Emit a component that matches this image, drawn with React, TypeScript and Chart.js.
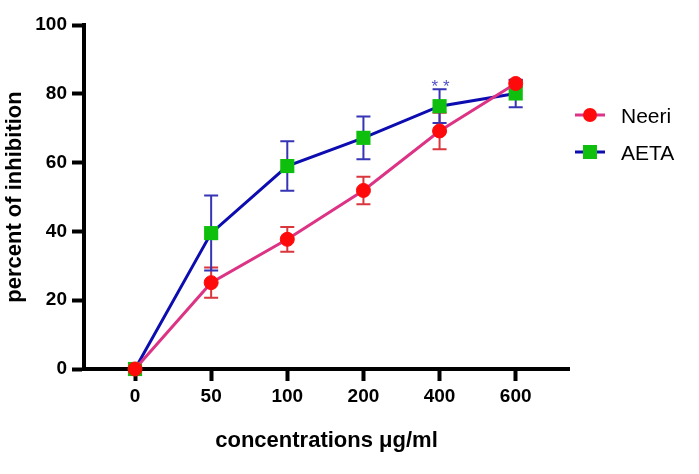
import { useEffect, useRef } from 'react';
import Chart from 'chart.js/auto';

const concentrations = ['0', '50', '100', '200', '400', '600'];
const neeriMean = [0, 25.1, 37.7, 51.9, 69.2, 83.0];
const neeriSem = [0, 4.4, 3.6, 4.0, 5.3, 1.0];
const aetaMean = [0, 39.5, 59.0, 67.2, 76.4, 80.1];
const aetaSem = [0, 10.9, 7.2, 6.2, 4.9, 4.0];
const aetaMarks = ['', '', '', '', '**', ''];

const FONT = '"Liberation Sans", Arial, sans-serif';

// error bars behind the markers
const errorBars = {
    id: 'errorBars',
    beforeDatasetsDraw(chart: any) {
        const { ctx, scales: { x, y } } = chart;
        chart.data.datasets.forEach((ds: any) => {
            ctx.save();
            ctx.strokeStyle = ds.errColor;
            ctx.lineWidth = 2;
            ds.data.forEach((p: any, i: number) => {
                const e = ds.sem[i];
                if (!e) return;
                const px = x.getPixelForValue(p.x);
                const top = y.getPixelForValue(p.y + e);
                const bot = y.getPixelForValue(p.y - e);
                ctx.beginPath();
                ctx.moveTo(px, top);
                ctx.lineTo(px, bot);
                ctx.moveTo(px - 7, top);
                ctx.lineTo(px + 7, top);
                ctx.moveTo(px - 7, bot);
                ctx.lineTo(px + 7, bot);
                ctx.stroke();
            });
            ctx.restore();
        });
    },
    afterDatasetsDraw(chart: any) {
        const { ctx, scales: { x, y } } = chart;
        const ds = chart.data.datasets[1];
        ctx.save();
        ctx.fillStyle = '#5252c8';
        ctx.font = `17px ${FONT}`;
        ctx.textAlign = 'center';
        ctx.textBaseline = 'alphabetic';
        aetaMarks.forEach((m, i) => {
            if (!m) return;
            const px = x.getPixelForValue(i);
            const py = y.getPixelForValue(aetaMean[i] + aetaSem[i]);
            ctx.fillText(m.split('').join(' '), px + 1, py + 3);
        });
        ctx.restore();
        void ds;
    },
};

// legend with line + marker sample, to the right of the plot
const sideLegend = {
    id: 'sideLegend',
    afterDraw(chart: any) {
        const { ctx, chartArea } = chart;
        const x0 = chartArea.right + 6;
        chart.data.datasets.forEach((ds: any, i: number) => {
            const yy = chartArea.top + 90 + i * 37;
            ctx.save();
            ctx.strokeStyle = ds.borderColor;
            ctx.lineWidth = 3;
            ctx.beginPath();
            ctx.moveTo(x0, yy);
            ctx.lineTo(x0 + 30, yy);
            ctx.stroke();
            ctx.fillStyle = ds.pointBackgroundColor;
            if (ds.pointStyle === 'circle') {
                ctx.beginPath();
                ctx.arc(x0 + 15, yy, 7, 0, Math.PI * 2);
                ctx.fill();
            } else {
                ctx.fillRect(x0 + 8, yy - 7, 14, 14);
            }
            ctx.fillStyle = '#000';
            ctx.font = `21px ${FONT}`;
            ctx.textAlign = 'left';
            ctx.textBaseline = 'alphabetic';
            ctx.fillText(ds.label, x0 + 46, yy + 7.5);
            ctx.restore();
        });
    },
};

const InhibitionChart = () => {
    const chartRef = useRef<HTMLCanvasElement | null>(null);
    const chartInstance = useRef<Chart | null>(null);

    useEffect(() => {
        document.body.style.margin = '0';
        if (!chartRef.current) return;
        if (chartInstance.current) chartInstance.current.destroy();

        const tickFont = { family: FONT, size: 19, weight: 'bold' as const };
        const titleFont = { family: FONT, size: 22, weight: 'bold' as const };
        const grid = {
            display: true,
            drawOnChartArea: false,
            drawTicks: true,
            tickLength: 12,
            tickWidth: 4,
            tickColor: '#000',
        };
        const border = { display: true, color: '#000', width: 4 };

        chartInstance.current = new Chart(chartRef.current, {
            type: 'line',
            data: {
                datasets: [
                    {
                        label: 'Neeri',
                        data: neeriMean.map((v, i) => ({ x: i, y: v })),
                        sem: neeriSem,
                        errColor: '#d9363e',
                        borderColor: '#dd3385',
                        borderWidth: 3,
                        pointStyle: 'circle',
                        pointRadius: 7,
                        pointBackgroundColor: '#ff0a0a',
                        pointBorderColor: '#ff0a0a',
                        pointBorderWidth: 1,
                        tension: 0,
                        fill: false,
                        clip: false,
                    } as any,
                    {
                        label: 'AETA',
                        data: aetaMean.map((v, i) => ({ x: i, y: v })),
                        sem: aetaSem,
                        errColor: '#3535b5',
                        borderColor: '#0c0cb0',
                        borderWidth: 3,
                        pointStyle: 'rect',
                        pointRadius: 10,
                        pointBackgroundColor: '#0ebf0e',
                        pointBorderColor: '#0ebf0e',
                        pointBorderWidth: 0,
                        tension: 0,
                        fill: false,
                        clip: false,
                    } as any,
                ],
            },
            options: {
                animation: false,
                responsive: true,
                maintainAspectRatio: false,
                layout: { padding: { top: 25, right: 130, bottom: 0, left: 0 } },
                plugins: {
                    legend: { display: false },
                    tooltip: { enabled: false },
                },
                scales: {
                    x: {
                        type: 'linear',
                        min: -0.67,
                        max: 5.7,
                        afterBuildTicks: (s: any) => {
                            s.ticks = concentrations.map((_, i) => ({ value: i }));
                        },
                        afterFit: (s: any) => {
                            s.height = 105;
                        },
                        ticks: {
                            callback: (v: any) => concentrations[v] ?? '',
                            font: tickFont,
                            color: '#000',
                            padding: 4,
                            autoSkip: false,
                            maxRotation: 0,
                        },
                        grid,
                        border,
                        title: {
                            display: true,
                            text: 'concentrations μg/ml',
                            font: titleFont,
                            color: '#000',
                            padding: { top: 0, bottom: 20 },
                        },
                    },
                    y: {
                        min: 0,
                        max: 100,
                        afterFit: (s: any) => {
                            s.width = 84;
                        },
                        ticks: {
                            stepSize: 20,
                            font: tickFont,
                            color: '#000',
                            padding: 5,
                        },
                        grid,
                        border,
                        title: {
                            display: true,
                            text: 'percent of inhibition',
                            font: titleFont,
                            color: '#000',
                            padding: { top: 2, bottom: 0 },
                        },
                    },
                },
            },
            plugins: [errorBars, sideLegend],
        });

        return () => {
            if (chartInstance.current) {
                chartInstance.current.destroy();
                chartInstance.current = null;
            }
        };
    }, []);

    return (
        <div style={{ position: 'relative', width: 699, height: 474, background: '#fff' }}>
            <canvas ref={chartRef}></canvas>
        </div>
    );
};

export default function App() {
    return <InhibitionChart />;
}
